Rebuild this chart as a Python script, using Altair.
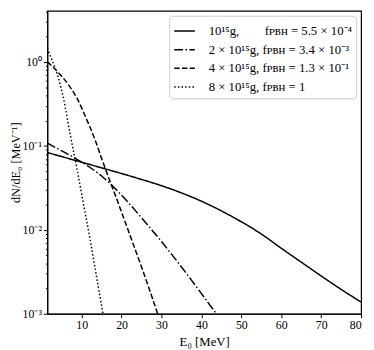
import altair as alt
import pandas as pd

# ---- data ----
series_labels = [
    "10¹⁵g,\u2002\u2002\u2002\u2002fᴘʙʜ = 5.5 × 10⁻⁴",
    "2 × 10¹⁵g, fᴘʙʜ = 3.4 × 10⁻³",
    "4 × 10¹⁵g, fᴘʙʜ = 1.3 × 10⁻¹",
    "8 × 10¹⁵g, fᴘʙʜ = 1",
]

e_1 = [1.4, 5, 10, 15, 20, 25, 30, 35, 40, 45, 50, 55, 60, 65, 70, 75, 80]
n_1 = [0.0832, 0.0745, 0.0638, 0.0547, 0.0468, 0.0398, 0.0335, 0.0275, 0.0219, 0.0168,
       0.01245, 0.00891, 0.00603, 0.00412, 0.00282, 0.00195, 0.00138]

e_2 = [1.4, 5, 8.8, 12, 15, 18, 21, 24, 27, 30, 33, 36, 39, 42, 44, 45]
n_2 = [0.1079, 0.0871, 0.0692, 0.0556, 0.0437, 0.0324, 0.0229, 0.0158, 0.01072, 0.00724,
       0.00479, 0.00313, 0.00202, 0.00129, 0.000955, 0.000794]

e_4 = [1.4, 3, 4.7, 6.8, 8.8, 11.2, 13.3, 15, 17.4, 19, 20.3, 22.3, 25.2, 28.9, 29.5]
n_4 = [1.0, 0.851, 0.700, 0.525, 0.372, 0.209, 0.120, 0.0708, 0.0347, 0.0219, 0.0148,
       0.00813, 0.00339, 0.00104, 0.000851]

e_8 = [1.4, 2.5, 3.8, 5.5, 7.1, 8.8, 10.4, 12.1, 13.3, 14.9, 15.6]
n_8 = [1.445, 1.072, 0.731, 0.358, 0.138, 0.0537, 0.0209, 0.00776, 0.00363, 0.00132, 0.000851]

x_ticks = [10, 20, 30, 40, 50, 60, 70, 80]
y_major = [1e-3, 1e-2, 1e-1, 1]
y_major_labels = ["10⁻³", "10⁻²", "10⁻¹", "10⁰"]
y_minor = [2e-3, 3e-3, 4e-3, 5e-3, 6e-3, 7e-3, 8e-3, 9e-3,
           2e-2, 3e-2, 4e-2, 5e-2, 6e-2, 7e-2, 8e-2, 9e-2,
           0.2, 0.3, 0.4, 0.5, 0.6, 0.7, 0.8, 0.9, 2, 3, 4]

x_domain = [1.4, 80]
y_domain = [1e-3, 4.06]

# ---- build table ----
rows = []
for lab, xs, ys in zip(series_labels, [e_1, e_2, e_4, e_8], [n_1, n_2, n_4, n_8]):
    for x, y in zip(xs, ys):
        rows.append({"series": lab, "E": x, "dNdE": y})
df = pd.DataFrame(rows)

dashes = [[1, 0], [9, 2.5, 1.5, 2.5], [5.5, 2.4], [1.5, 2.2]]

FONT = "Liberation Serif"

label_expr = " : ".join(
    f"datum.value < {v * 3} ? '{l}'" for v, l in zip(y_major[:-1], y_major_labels[:-1])
) + f" : '{y_major_labels[-1]}'"

yscale = alt.Scale(type="log", domain=y_domain, nice=False)

lines = alt.Chart(df).mark_line(clip=True, color="black", strokeWidth=1.5,
                                interpolate="monotone").encode(
    x=alt.X("E:Q",
            scale=alt.Scale(domain=x_domain, nice=False, zero=False),
            axis=alt.Axis(values=x_ticks, title="E₀ [MeV]", grid=False,
                          tickSize=4, labelPadding=2, titlePadding=5,
                          labelFont=FONT, titleFont=FONT, labelFontSize=12,
                          titleFontSize=13, titleFontWeight="normal",
                          domainColor="black", tickColor="black",
                          labelColor="black", titleColor="black")),
    y=alt.Y("dNdE:Q", scale=yscale,
            axis=alt.Axis(values=y_major, labelExpr=label_expr,
                          title="dN/dE₀ [MeV⁻¹]", grid=False, tickSize=4,
                          labelPadding=2, titlePadding=0,
                          labelFont=FONT, titleFont=FONT, labelFontSize=12,
                          titleFontSize=12.5, titleFontWeight="normal",
                          domainColor="black", tickColor="black",
                          labelColor="black", titleColor="black")),
    strokeDash=alt.StrokeDash(
        "series:N", sort=series_labels,
        scale=alt.Scale(domain=series_labels, range=dashes),
        legend=alt.Legend(title=None, orient="top-right", offset=5,
                          labelFont=FONT, labelFontSize=13, labelLimit=400,
                          symbolType="stroke", symbolStrokeColor="black",
                          symbolStrokeWidth=1.5, symbolSize=440,
                          labelOffset=13, rowPadding=-1,
                          padding=4, fillColor="white",
                          strokeColor="#cccccc", cornerRadius=3,
                          labelColor="black"),
    ),
    order=alt.Order("E:Q"),
)

minor = alt.Chart(pd.DataFrame({"v": y_minor})).mark_point(opacity=0).encode(
    y=alt.Y("v:Q", scale=yscale,
            axis=alt.Axis(values=y_minor, labels=False, tickSize=2, domain=False,
                          title=None, grid=False, orient="left",
                          tickColor="black")),
)

chart = alt.layer(lines, minor).resolve_scale(y="shared").resolve_axis(
    y="independent"
).properties(
    width=319, height=308,
    autosize=alt.AutoSizeParams(type="none"),
    padding={"left": 40, "top": 0, "right": 5, "bottom": 34},
).configure_view(stroke="black", strokeWidth=1.2)

chart.save("out.html", embed_options={"renderer": "svg", "actions": False})
